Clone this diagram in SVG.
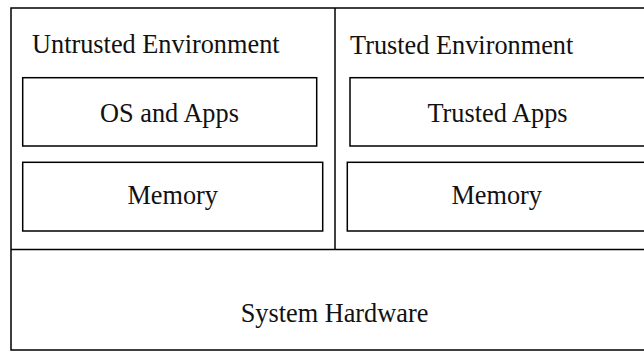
<svg xmlns="http://www.w3.org/2000/svg" width="644" height="352" viewBox="0 0 644 352">
<style>
  .box { fill: none; stroke: #000; stroke-width: 1.5; }
  .lbl { font-family: "Liberation Serif", "Times New Roman", serif; font-size: 26.3px; fill: #111; }
  .mid { text-anchor: middle; }
</style>
<rect width="644" height="352" fill="#fff"/>
<g id="system-hardware">
  <path class="box" d="M646,8 H11 V350 H646"/>
  <path class="box" d="M11,249.5 H646" />
  <text class="lbl mid" x="334.5" y="321.7">System Hardware</text>
</g>
<g id="untrusted-environment">
  <path class="box" d="M335,8 V249.5"/>
  <text class="lbl" x="32" y="53">Untrusted Environment</text>
</g>
<g id="os-and-apps">
  <rect class="box" x="22.7" y="77.7" width="294" height="68.3"/>
  <text class="lbl mid" x="169.5" y="121.7">OS and Apps</text>
</g>
<g id="untrusted-memory">
  <rect class="box" x="22.7" y="162.3" width="300" height="68.7"/>
  <text class="lbl mid" x="172.7" y="204">Memory</text>
</g>
<g id="trusted-environment">
  <text class="lbl" x="350" y="54">Trusted Environment</text>
</g>
<g id="trusted-apps">
  <rect class="box" x="350" y="77.7" width="300" height="68.3"/>
  <text class="lbl mid" x="497.5" y="122">Trusted Apps</text>
</g>
<g id="trusted-memory">
  <rect class="box" x="347.3" y="162.3" width="305" height="68.7"/>
  <text class="lbl mid" x="496.7" y="204">Memory</text>
</g>
<g id="connectors"></g>
</svg>
